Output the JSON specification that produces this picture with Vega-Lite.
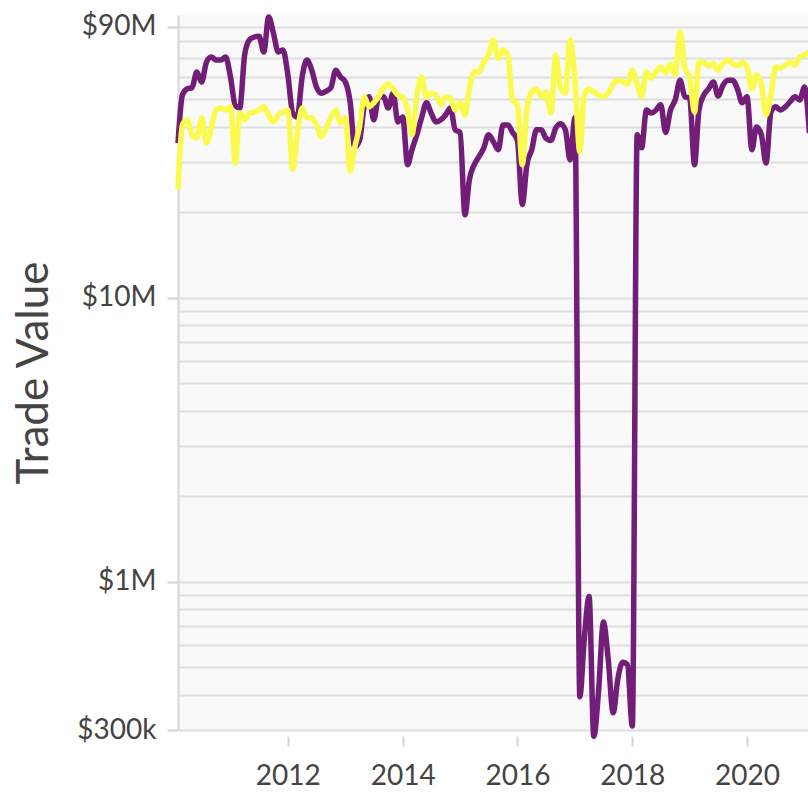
{
  "$schema": "https://vega.github.io/schema/vega-lite/v6.json",
  "autosize": {"type": "none"},
  "padding": {"left": 178, "top": 15, "right": 0, "bottom": 62},
  "width": 630,
  "height": 715,
  "background": "white",
  "config": {"view": {"fill": "#f9f9f9", "stroke": null}, "font": "Lato"},
  "data": {"values": [
    {"month":"2010-02-01","trade_1":35000000,"trade_2":24000000},
    {"month":"2010-03-01","trade_1":51800000,"trade_2":40600000},
    {"month":"2010-04-01","trade_1":54400000,"trade_2":42300000},
    {"month":"2010-05-01","trade_1":54900000,"trade_2":37500000},
    {"month":"2010-06-01","trade_1":62400000,"trade_2":36600000},
    {"month":"2010-07-01","trade_1":57500000,"trade_2":43000000},
    {"month":"2010-08-01","trade_1":67500000,"trade_2":35000000},
    {"month":"2010-09-01","trade_1":70400000,"trade_2":39600000},
    {"month":"2010-10-01","trade_1":68700000,"trade_2":45800000},
    {"month":"2010-11-01","trade_1":68700000,"trade_2":46600000},
    {"month":"2010-12-01","trade_1":70400000,"trade_2":45800000},
    {"month":"2011-01-01","trade_1":59900000,"trade_2":47000000},
    {"month":"2011-02-01","trade_1":47400000,"trade_2":29800000},
    {"month":"2011-03-01","trade_1":46600000,"trade_2":44700000},
    {"month":"2011-04-01","trade_1":71600000,"trade_2":42300000},
    {"month":"2011-05-01","trade_1":80800000,"trade_2":44700000},
    {"month":"2011-06-01","trade_1":82800000,"trade_2":45000000},
    {"month":"2011-07-01","trade_1":83400000,"trade_2":45800000},
    {"month":"2011-08-01","trade_1":73400000,"trade_2":47000000},
    {"month":"2011-09-01","trade_1":97500000,"trade_2":44000000},
    {"month":"2011-10-01","trade_1":85600000,"trade_2":41600000},
    {"month":"2011-11-01","trade_1":73400000,"trade_2":44000000},
    {"month":"2011-12-01","trade_1":74500000,"trade_2":45000000},
    {"month":"2012-01-01","trade_1":61000000,"trade_2":45800000},
    {"month":"2012-02-01","trade_1":44700000,"trade_2":28300000},
    {"month":"2012-03-01","trade_1":43300000,"trade_2":37500000},
    {"month":"2012-04-01","trade_1":59900000,"trade_2":46600000},
    {"month":"2012-05-01","trade_1":68700000,"trade_2":43000000},
    {"month":"2012-06-01","trade_1":63300000,"trade_2":43000000},
    {"month":"2012-07-01","trade_1":55200000,"trade_2":40600000},
    {"month":"2012-08-01","trade_1":52500000,"trade_2":36900000},
    {"month":"2012-09-01","trade_1":53400000,"trade_2":39600000},
    {"month":"2012-10-01","trade_1":54900000,"trade_2":43000000},
    {"month":"2012-11-01","trade_1":63300000,"trade_2":45800000},
    {"month":"2012-12-01","trade_1":59900000,"trade_2":41300000},
    {"month":"2013-01-01","trade_1":57500000,"trade_2":43000000},
    {"month":"2013-02-01","trade_1":48600000,"trade_2":27900000},
    {"month":"2013-03-01","trade_1":34000000,"trade_2":33700000},
    {"month":"2013-04-01","trade_1":35800000,"trade_2":39900000},
    {"month":"2013-05-01","trade_1":47000000,"trade_2":51000000},
    {"month":"2013-06-01","trade_1":51000000,"trade_2":47000000},
    {"month":"2013-07-01","trade_1":42300000,"trade_2":48600000},
    {"month":"2013-08-01","trade_1":51000000,"trade_2":51000000},
    {"month":"2013-09-01","trade_1":51000000,"trade_2":55000000},
    {"month":"2013-10-01","trade_1":46600000,"trade_2":56500000},
    {"month":"2013-11-01","trade_1":52500000,"trade_2":54400000},
    {"month":"2013-12-01","trade_1":41600000,"trade_2":51700000},
    {"month":"2014-01-01","trade_1":43300000,"trade_2":51000000},
    {"month":"2014-02-01","trade_1":29400000,"trade_2":45800000},
    {"month":"2014-03-01","trade_1":33200000,"trade_2":37500000},
    {"month":"2014-04-01","trade_1":37500000,"trade_2":51700000},
    {"month":"2014-05-01","trade_1":43000000,"trade_2":59900000},
    {"month":"2014-06-01","trade_1":48600000,"trade_2":51000000},
    {"month":"2014-07-01","trade_1":44700000,"trade_2":52500000},
    {"month":"2014-08-01","trade_1":41600000,"trade_2":51700000},
    {"month":"2014-09-01","trade_1":42300000,"trade_2":47800000},
    {"month":"2014-10-01","trade_1":44000000,"trade_2":51000000},
    {"month":"2014-11-01","trade_1":46600000,"trade_2":50500000},
    {"month":"2014-12-01","trade_1":39000000,"trade_2":45800000},
    {"month":"2015-01-01","trade_1":38200000,"trade_2":48600000},
    {"month":"2015-02-01","trade_1":19600000,"trade_2":44000000},
    {"month":"2015-03-01","trade_1":26000000,"trade_2":54400000},
    {"month":"2015-04-01","trade_1":29400000,"trade_2":62400000},
    {"month":"2015-05-01","trade_1":31400000,"trade_2":62400000},
    {"month":"2015-06-01","trade_1":33700000,"trade_2":67500000},
    {"month":"2015-07-01","trade_1":37500000,"trade_2":71600000},
    {"month":"2015-08-01","trade_1":35400000,"trade_2":80800000},
    {"month":"2015-09-01","trade_1":33200000,"trade_2":69800000},
    {"month":"2015-10-01","trade_1":40600000,"trade_2":74500000},
    {"month":"2015-11-01","trade_1":40600000,"trade_2":71600000},
    {"month":"2015-12-01","trade_1":38200000,"trade_2":49700000},
    {"month":"2016-01-01","trade_1":35800000,"trade_2":47800000},
    {"month":"2016-02-01","trade_1":21300000,"trade_2":29400000},
    {"month":"2016-03-01","trade_1":29400000,"trade_2":45800000},
    {"month":"2016-04-01","trade_1":33200000,"trade_2":53000000},
    {"month":"2016-05-01","trade_1":39000000,"trade_2":54400000},
    {"month":"2016-06-01","trade_1":39000000,"trade_2":51000000},
    {"month":"2016-07-01","trade_1":36400000,"trade_2":53000000},
    {"month":"2016-08-01","trade_1":35800000,"trade_2":44700000},
    {"month":"2016-09-01","trade_1":39600000,"trade_2":71600000},
    {"month":"2016-10-01","trade_1":41000000,"trade_2":54900000},
    {"month":"2016-11-01","trade_1":39000000,"trade_2":52500000},
    {"month":"2016-12-01","trade_1":30600000,"trade_2":80800000},
    {"month":"2017-01-01","trade_1":43000000,"trade_2":58300000},
    {"month":"2017-02-01","trade_1":393000,"trade_2":32600000},
    {"month":"2017-03-01","trade_1":625000,"trade_2":51700000},
    {"month":"2017-04-01","trade_1":885000,"trade_2":54400000},
    {"month":"2017-05-01","trade_1":285000,"trade_2":53000000},
    {"month":"2017-06-01","trade_1":417000,"trade_2":51700000},
    {"month":"2017-07-01","trade_1":720000,"trade_2":51000000},
    {"month":"2017-08-01","trade_1":530000,"trade_2":52500000},
    {"month":"2017-09-01","trade_1":345000,"trade_2":56500000},
    {"month":"2017-10-01","trade_1":455000,"trade_2":58300000},
    {"month":"2017-11-01","trade_1":520000,"trade_2":57500000},
    {"month":"2017-12-01","trade_1":510000,"trade_2":56500000},
    {"month":"2018-01-01","trade_1":310000,"trade_2":63300000},
    {"month":"2018-02-01","trade_1":37500000,"trade_2":56500000},
    {"month":"2018-03-01","trade_1":33700000,"trade_2":51000000},
    {"month":"2018-04-01","trade_1":45800000,"trade_2":62400000},
    {"month":"2018-05-01","trade_1":44700000,"trade_2":59400000},
    {"month":"2018-06-01","trade_1":45800000,"trade_2":62400000},
    {"month":"2018-07-01","trade_1":47800000,"trade_2":64900000},
    {"month":"2018-08-01","trade_1":38200000,"trade_2":61900000},
    {"month":"2018-09-01","trade_1":45800000,"trade_2":66500000},
    {"month":"2018-10-01","trade_1":49700000,"trade_2":61000000},
    {"month":"2018-11-01","trade_1":58300000,"trade_2":86300000},
    {"month":"2018-12-01","trade_1":51000000,"trade_2":64900000},
    {"month":"2019-01-01","trade_1":50500000,"trade_2":59400000},
    {"month":"2019-02-01","trade_1":29400000,"trade_2":45000000},
    {"month":"2019-03-01","trade_1":45800000,"trade_2":67500000},
    {"month":"2019-04-01","trade_1":51700000,"trade_2":67500000},
    {"month":"2019-05-01","trade_1":54400000,"trade_2":65400000},
    {"month":"2019-06-01","trade_1":57500000,"trade_2":66900000},
    {"month":"2019-07-01","trade_1":51300000,"trade_2":63300000},
    {"month":"2019-08-01","trade_1":56000000,"trade_2":66900000},
    {"month":"2019-09-01","trade_1":58300000,"trade_2":68700000},
    {"month":"2019-10-01","trade_1":58300000,"trade_2":66900000},
    {"month":"2019-11-01","trade_1":54400000,"trade_2":65400000},
    {"month":"2019-12-01","trade_1":48600000,"trade_2":67500000},
    {"month":"2020-01-01","trade_1":51000000,"trade_2":64900000},
    {"month":"2020-02-01","trade_1":33200000,"trade_2":54400000},
    {"month":"2020-03-01","trade_1":39900000,"trade_2":61000000},
    {"month":"2020-04-01","trade_1":37500000,"trade_2":56500000},
    {"month":"2020-05-01","trade_1":29800000,"trade_2":44000000},
    {"month":"2020-06-01","trade_1":45000000,"trade_2":51700000},
    {"month":"2020-07-01","trade_1":47000000,"trade_2":64900000},
    {"month":"2020-08-01","trade_1":45800000,"trade_2":64300000},
    {"month":"2020-09-01","trade_1":47000000,"trade_2":65900000},
    {"month":"2020-10-01","trade_1":49000000,"trade_2":67500000},
    {"month":"2020-11-01","trade_1":51000000,"trade_2":65900000},
    {"month":"2020-12-01","trade_1":49700000,"trade_2":70400000},
    {"month":"2021-01-01","trade_1":55200000,"trade_2":71600000},
    {"month":"2021-02-01","trade_1":38000000,"trade_2":73400000}
  ]},
  "encoding": {
    "x": {
      "field": "month", "type": "temporal",
      "scale": {"domain": [{"year": 2010, "month": 2, "date": 1}, {"year": 2021, "month": 1, "date": 23}], "nice": false},
      "axis": {
        "values": [{"year": 2012}, {"year": 2014}, {"year": 2016}, {"year": 2018}, {"year": 2020}],
        "format": "%Y", "title": null, "grid": false, "domain": false,
        "offset": 6, "tickSize": 10, "tickColor": "#d3d3d3", "tickWidth": 2,
        "labelFont": "Lato", "labelFontSize": 28, "labelColor": "#444444", "labelPadding": 16
      }
    }
  },
  "layer": [
    {
      "mark": {"type": "line", "color": "#721d78", "strokeWidth": 5.5, "interpolate": "monotone"},
      "encoding": {
        "y": {
          "field": "trade_1", "type": "quantitative",
          "scale": {"type": "log", "domain": [300000, 99000000], "nice": false},
          "axis": {
            "values": [300000, 400000, 500000, 600000, 700000, 800000, 900000, 1000000, 2000000, 3000000, 4000000, 5000000, 6000000, 7000000, 8000000, 9000000, 10000000, 20000000, 30000000, 40000000, 50000000, 60000000, 70000000, 80000000, 90000000],
            "labelExpr": "datum.value == 300000 ? '$300k' : datum.value == 1000000 ? '$1M' : datum.value == 10000000 ? '$10M' : datum.value == 90000000 ? '$90M' : ''",
            "labelOverlap": false, "labelBound": false,
            "labelFont": "Lato", "labelFontSize": 28, "labelColor": "#444444", "labelPadding": 11,
            "tickSize": 11, "tickColor": "#d3d3d3", "tickWidth": 2,
            "tickOpacity": {"condition": {"test": "indexof([300000, 1000000, 10000000, 90000000], datum.value) >= 0", "value": 1}, "value": 0},
            "grid": true, "gridColor": "#dedede", "gridWidth": 2,
            "domainColor": "#d6d6d6", "domainWidth": 2,
            "title": "Trade Value", "titleFont": "Lato", "titleFontSize": 44, "titleFontWeight": "normal", "titleColor": "#444444", "titlePadding": 20
          }
        }
      }
    },
    {
      "mark": {"type": "line", "color": "#fbfb4f", "strokeWidth": 5.5, "interpolate": "monotone"},
      "encoding": {
        "y": {"field": "trade_2", "type": "quantitative"}
      }
    }
  ]
}
